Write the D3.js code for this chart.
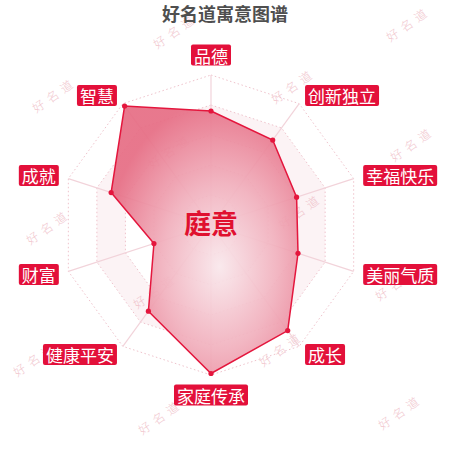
<!DOCTYPE html>
<html>
<head>
<meta charset="utf-8">
<script src="https://cdn.jsdelivr.net/npm/d3@7"></script>
<style>
  body { margin: 0; background: #fff; }
  svg { display: block; font-family: "Noto Sans CJK SC", "Noto Sans", sans-serif; }
</style>
</head>
<body>
<svg id="chart"></svg>
<script>
let w = 450
let h = 450

// chart data
const indicators = ['品德', '创新独立', '幸福快乐', '美丽气质', '成长', '家庭传承', '健康平安', '财富', '成就', '智慧']
const values = [76, 70, 60, 61, 87, 99, 71, 40, 70, 98]
const levels = [20, 40, 60, 80, 100]
const title = '好名道寓意图谱'
const centerName = '庭意'
const watermark = '好名道'
const markPos = [[175, 30], [408, 23], [54, 94], [293, 85], [170, 150], [412, 143], [48, 226],
  [300, 210], [155, 290], [397, 282], [35, 358], [281, 348], [160, 416], [400, 411]]

let cx = 211, cy = 225, R = 150

let svg = d3.select('#chart').attr('width', w).attr('height', h)

// watermarks behind everything
svg.append('g').selectAll('text')
  .data(markPos)
  .join('text')
  .attr('transform', d => `translate(${d[0]},${d[1]}) rotate(-35)`)
  .attr('text-anchor', 'middle')
  .attr('dominant-baseline', 'central')
  .attr('font-size', 12)
  .attr('font-weight', 300)
  .attr('letter-spacing', 5)
  .attr('fill', '#f1c6ce')
  .text(watermark)

svg.append('text')
  .attr('x', w / 2).attr('y', 13)
  .attr('text-anchor', 'middle')
  .attr('dominant-baseline', 'central')
  .attr('font-size', 18)
  .attr('font-weight', 'bold')
  .attr('fill', '#4f4f4f')
  .text(title)

let n = indicators.length
let angle = d3.scaleLinear().domain([0, n]).range([0, 2 * Math.PI])
let r = d3.scaleLinear().domain([0, 100]).range([0, R])

let g = svg.append('g').attr('transform', `translate(${cx},${cy})`)

let pt = (i, v) => [Math.sin(angle(i)) * r(v), -Math.cos(angle(i)) * r(v)]
let ring = v => d3.range(n).map(i => pt(i, v))

// split area: alternating pale pink rings
levels.forEach((lv, k) => {
  if (k % 2 === 1) {
    let outer = ring(lv), inner = ring(levels[k - 1])
    g.append('path')
      .attr('d', 'M' + outer.join('L') + 'Z M' + inner.reverse().join('L') + 'Z')
      .attr('fill', 'rgba(240,185,198,0.17)')
      .attr('fill-rule', 'evenodd')
  }
})

// split lines
g.selectAll('.split')
  .data(levels)
  .join('polygon')
  .attr('class', 'split')
  .attr('points', d => ring(d).join(' '))
  .attr('fill', 'none')
  .attr('stroke', '#efc3cc')
  .attr('stroke-width', 1)
  .attr('stroke-dasharray', '1.5 2.5')

// axis lines
g.selectAll('.axis')
  .data(indicators)
  .join('line')
  .attr('class', 'axis')
  .attr('x1', 0).attr('y1', 0)
  .attr('x2', (d, i) => pt(i, 100)[0])
  .attr('y2', (d, i) => pt(i, 100)[1])
  .attr('stroke', '#f2d3da')
  .attr('stroke-width', 1.2)

// area gradient
let grad = svg.append('defs').append('radialGradient')
  .attr('id', 'areaGrad')
  .attr('cx', 0.58).attr('cy', 0.6).attr('r', 0.62)
grad.append('stop').attr('offset', 0).attr('stop-color', '#f9e8ec')
grad.append('stop').attr('offset', 0.5).attr('stop-color', '#f1b0bd')
grad.append('stop').attr('offset', 1).attr('stop-color', '#e66d84')

let line = d3.lineRadial()
  .angle((d, i) => angle(i))
  .radius(d => r(d))
  .curve(d3.curveLinearClosed)

g.append('path')
  .datum(values)
  .attr('d', line)
  .attr('fill', 'url(#areaGrad)')
  .attr('fill-opacity', 0.92)
  .attr('stroke', '#e4163d')
  .attr('stroke-width', 1.5)

g.selectAll('.dot')
  .data(values)
  .join('circle')
  .attr('class', 'dot')
  .attr('cx', (d, i) => pt(i, d)[0])
  .attr('cy', (d, i) => pt(i, d)[1])
  .attr('r', 2.6)
  .attr('fill', '#e4163d')

// indicator labels with red boxes
let lab = g.selectAll('.lab')
  .data(indicators)
  .join('g')
  .attr('class', 'lab')

lab.each(function (d, i) {
  let p = pt(i, 100 * (R + 10) / R)
  let s = Math.sin(angle(i)), c = Math.cos(angle(i))
  let anchor = Math.abs(s) < 0.01 ? 'middle' : (s > 0 ? 'start' : 'end')
  let dy = 0
  if (Math.abs(s) < 0.01) dy = c > 0 ? -10 : 10
  let t = d3.select(this).append('text')
    .attr('x', p[0] + (anchor === 'start' ? 3 : anchor === 'end' ? -3 : 0))
    .attr('y', p[1] + dy)
    .attr('text-anchor', anchor)
    .attr('dominant-baseline', 'central')
    .attr('font-size', 17)
    .attr('fill', '#fff')
    .text(d)
  let b = t.node().getBBox()
  d3.select(this).insert('rect', 'text')
    .attr('x', b.x - 3).attr('y', p[1] + dy - 10.5)
    .attr('width', b.width + 6).attr('height', 21)
    .attr('rx', 2)
    .attr('fill', '#e3103a')
})

g.append('text')
  .attr('x', 0).attr('y', -3)
  .attr('text-anchor', 'middle')
  .attr('dominant-baseline', 'central')
  .attr('font-size', 27)
  .attr('font-weight', 'bold')
  .attr('fill', '#e0102f')
  .text(centerName)
</script>
</body>
</html>
